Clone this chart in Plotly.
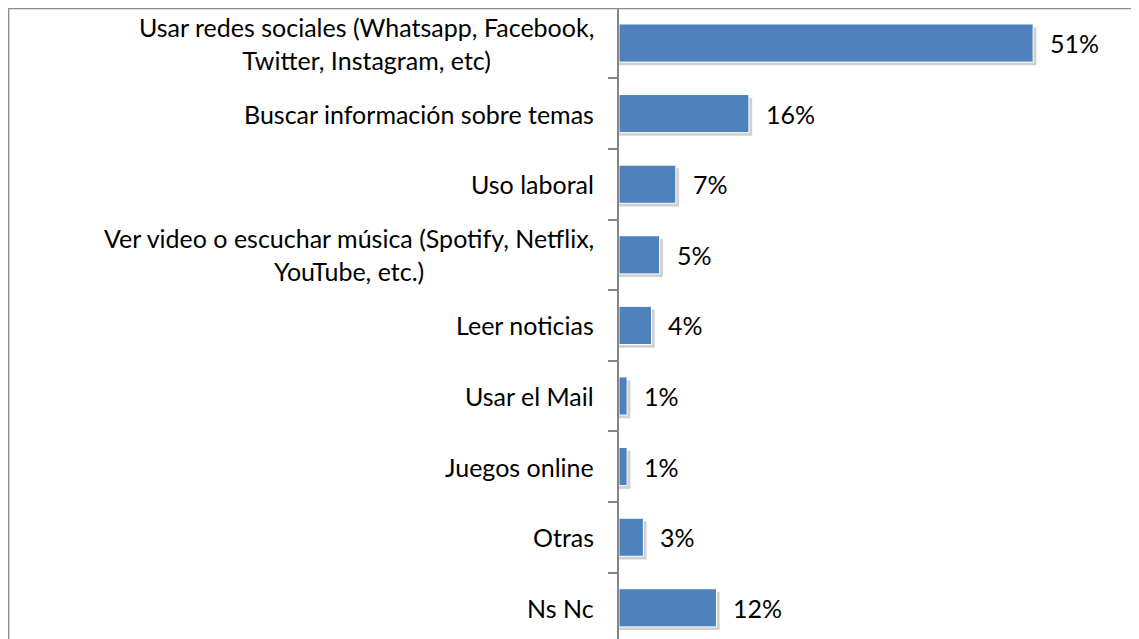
import plotly.graph_objects as go

categories = [
    "Usar redes sociales (Whatsapp, Facebook,<br>Twitter, Instagram, etc)",
    "Buscar información sobre temas",
    "Uso laboral",
    "Ver video o escuchar música (Spotify, Netflix,<br>YouTube, etc.)",
    "Leer noticias",
    "Usar el Mail",
    "Juegos online",
    "Otras",
    "Ns Nc",
]
values = [51, 16, 7, 5, 4, 1, 1, 3, 12]
value_labels = ["51%", "16%", "7%", "5%", "4%", "1%", "1%", "3%", "12%"]

bar_color = "#4F81BD"
axis_color = "#868686"
font_name = "Lato"
left = 611
plot_w = 1139 - left

fig = go.Figure()

# soft shadow behind each bar
fig.add_trace(go.Bar(
    y=categories, x=[v + 0.4 for v in values], orientation="h",
    marker=dict(color="rgba(0,0,0,0.18)", line=dict(width=0)),
    width=0.54, offset=-0.27 + 0.045,
    hoverinfo="skip", showlegend=False))

fig.add_trace(go.Bar(
    y=categories, x=values, orientation="h",
    marker=dict(color=bar_color, line=dict(color="white", width=1)),
    width=0.54, offset=-0.27,
    showlegend=False))

for cat, v, lab in zip(categories, values, value_labels):
    fig.add_annotation(x=v, y=cat, xref="x", yref="y", text=lab,
                       xanchor="left", yanchor="middle", xshift=15,
                       showarrow=False, font=dict(size=25, color="black", family=font_name))
    fig.add_annotation(x=0, y=cat, xref="paper", yref="y", text=cat,
                       xanchor="right", yanchor="middle", xshift=-23, align="center",
                       showarrow=False, font=dict(size=25, color="black", family=font_name))

# outer frame (top and left edges visible)
fig.add_shape(type="line", xref="paper", yref="paper", x0=-left / plot_w, x1=1.05, y0=1.0, y1=1.0,
              line=dict(color="#8c8c8c", width=2.5))
fig.add_shape(type="line", xref="paper", yref="paper", x0=(0.6 - left) / plot_w, x1=(0.6 - left) / plot_w,
              y0=1.0, y1=-0.1, line=dict(color="#8c8c8c", width=1.5))

fig.update_layout(
    width=1139, height=639,
    margin=dict(l=left, r=0, t=0, b=0),
    paper_bgcolor="white", plot_bgcolor="white",
    barmode="overlay",
    font=dict(family=font_name, size=25, color="black"),
    xaxis=dict(range=[0, plot_w / 8.12], visible=False, fixedrange=True),
    yaxis=dict(
        type="category", range=[8.555, -0.496], showticklabels=False,
        showline=True, linecolor=axis_color, linewidth=1.5,
        ticks="outside", tickson="boundaries", ticklen=9, tickcolor=axis_color, tickwidth=1.5,
        showgrid=False, zeroline=False,
    ),
)

fig.write_html("out.html")
